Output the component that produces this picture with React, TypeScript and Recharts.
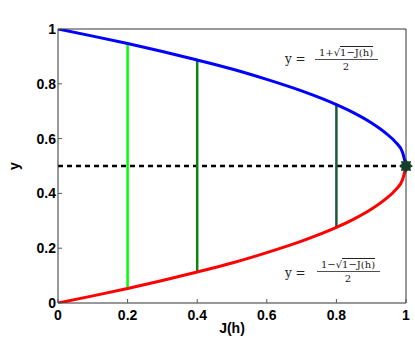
import React from "react";
import {
  ComposedChart,
  Line,
  XAxis,
  YAxis,
  ReferenceLine,
  ReferenceDot,
} from "recharts";

// values
const jValues = [0, 0.1, 0.2, 0.3, 0.4, 0.5, 0.6, 0.7, 0.8, 0.85, 0.9, 0.94, 0.97, 0.99, 1.0];
const upperY = [1.0, 0.974, 0.947, 0.918, 0.887, 0.854, 0.816, 0.774, 0.724, 0.694, 0.658, 0.622, 0.587, 0.55, 0.5];
const lowerY = [0, 0.026, 0.053, 0.082, 0.113, 0.146, 0.184, 0.226, 0.276, 0.306, 0.342, 0.378, 0.413, 0.45, 0.5];

const markerJ = [0.2, 0.4, 0.8];
const markerLow = [0.053, 0.113, 0.276];
const markerHigh = [0.947, 0.887, 0.724];
const markerColors = ["#00ff00", "#0b8412", "#1c5a3a"];

const xTicks = [0, 0.2, 0.4, 0.6, 0.8, 1];
const yTicks = [0, 0.2, 0.4, 0.6, 0.8, 1];

const starX = 1;
const starY = 0.5;

const upperData = jValues.map((x, i) => ({ x, y: upperY[i] }));
const lowerData = jValues.map((x, i) => ({ x, y: lowerY[i] }));

const fmt = (v: number) => (v === 0 || v === 1 ? String(v) : v.toFixed(1));

const tickFont = {
  fontFamily: "Liberation Sans, Arial, sans-serif",
  fontWeight: "bold" as const,
  fontSize: 14,
  fill: "#000",
};

const LeftTick = (props: any) => {
  const { x, y, payload } = props;
  return (
    <g>
      <line x1={x} x2={x + 4} y1={y} y2={y} stroke="#555" />
      <text x={x - 2} y={y + 5} textAnchor="end" {...tickFont}>
        {fmt(payload.value)}
      </text>
    </g>
  );
};

const BottomTick = (props: any) => {
  const { x, y, payload } = props;
  return (
    <g>
      <line x1={x} x2={x} y1={y} y2={y - 4} stroke="#555" />
      <text x={x} y={y + 17} textAnchor="middle" {...tickFont}>
        {fmt(payload.value)}
      </text>
    </g>
  );
};

const TopTick = (props: any) => {
  const { x, y } = props;
  return <line x1={x} x2={x} y1={y} y2={y + 4} stroke="#555" />;
};

const RightTick = (props: any) => {
  const { x, y } = props;
  return <line x1={x - 4} x2={x} y1={y} y2={y} stroke="#555" />;
};

const Star = (props: any) => {
  const { cx, cy } = props;
  const pts: string[] = [];
  for (let i = 0; i < 16; i++) {
    const r = i % 2 === 0 ? 7 : 4.8;
    const a = (Math.PI * i) / 8;
    pts.push(`${cx + r * Math.cos(a)},${cy + r * Math.sin(a)}`);
  }
  return <polygon points={pts.join(" ")} fill="#153f28" />;
};

const eqFont = {
  fontFamily: "DejaVu Serif, Liberation Serif, serif",
  fontSize: 10,
  fill: "#222",
};

export default function App() {
  return (
    <div style={{ position: "absolute", left: 0, top: 0, width: 415, height: 341, background: "#fff" }}>
      <ComposedChart
        width={415}
        height={341}
        margin={{ top: 28, right: 8, bottom: 37, left: 57 }}
      >
        <XAxis
          type="number"
          dataKey="x"
          domain={[0, 1]}
          ticks={xTicks}
          height={1}
          tickSize={0}
          tickMargin={0}
          tick={<BottomTick />}
          tickLine={false}
          axisLine={{ stroke: "#333" }}
          allowDataOverflow
        />
        <XAxis
          xAxisId="top"
          orientation="top"
          type="number"
          dataKey="x"
          domain={[0, 1]}
          ticks={xTicks}
          height={1}
          tickSize={0}
          tickMargin={0}
          tick={<TopTick />}
          tickLine={false}
          axisLine={{ stroke: "#333" }}
        />
        <YAxis
          type="number"
          domain={[0, 1]}
          ticks={yTicks}
          width={1}
          tickSize={0}
          tickMargin={0}
          tick={<LeftTick />}
          tickLine={false}
          axisLine={{ stroke: "#333" }}
          allowDataOverflow
        />
        <YAxis
          yAxisId="right"
          orientation="right"
          type="number"
          domain={[0, 1]}
          ticks={yTicks}
          width={1}
          tickSize={0}
          tickMargin={0}
          tick={<RightTick />}
          tickLine={false}
          axisLine={{ stroke: "#333" }}
        />
        <ReferenceLine
          segment={[{ x: 0, y: 0.5 }, { x: 1, y: 0.5 }]}
          stroke="#000"
          strokeWidth={2.5}
          strokeDasharray="5 4"
        />
        {markerJ.map((j, i) => (
          <ReferenceLine
            key={j}
            segment={[{ x: j, y: markerLow[i] }, { x: j, y: markerHigh[i] }]}
            stroke={markerColors[i]}
            strokeWidth={2.5}
          />
        ))}
        <Line
          data={upperData}
          dataKey="y"
          type="monotone"
          stroke="#0000ff"
          strokeWidth={3}
          dot={false}
          isAnimationActive={false}
        />
        <Line
          data={lowerData}
          dataKey="y"
          type="monotone"
          stroke="#ff0000"
          strokeWidth={3}
          dot={false}
          isAnimationActive={false}
        />
        <ReferenceDot x={starX} y={starY} r={7} ifOverflow="visible" shape={<Star />} />
      </ComposedChart>
      <svg
        width={415}
        height={341}
        style={{ position: "absolute", left: 0, top: 0, pointerEvents: "none" }}
      >
        <text x={232} y={333} textAnchor="middle" {...tickFont}>J(h)</text>
        <text x={19} y={166} textAnchor="middle" transform="rotate(-90 19 166)" {...tickFont}>y</text>

        <text x={285} y={63} {...eqFont} fontSize={12}>y =</text>
        <text x={346} y={56} textAnchor="middle" {...eqFont}>
          1+√<tspan style={{ textDecoration: "overline" }}>1−J(h)</tspan>
        </text>
        <line x1={315} x2={378} y1={59.5} y2={59.5} stroke="#222" strokeWidth={0.8} />
        <text x={346} y={70} textAnchor="middle" {...eqFont}>2</text>

        <text x={285} y={277} {...eqFont} fontSize={12}>y =</text>
        <text x={348} y={268} textAnchor="middle" {...eqFont}>
          1−√<tspan style={{ textDecoration: "overline" }}>1−J(h)</tspan>
        </text>
        <line x1={317} x2={380} y1={271.5} y2={271.5} stroke="#222" strokeWidth={0.8} />
        <text x={348} y={282} textAnchor="middle" {...eqFont}>2</text>
      </svg>
    </div>
  );
}
